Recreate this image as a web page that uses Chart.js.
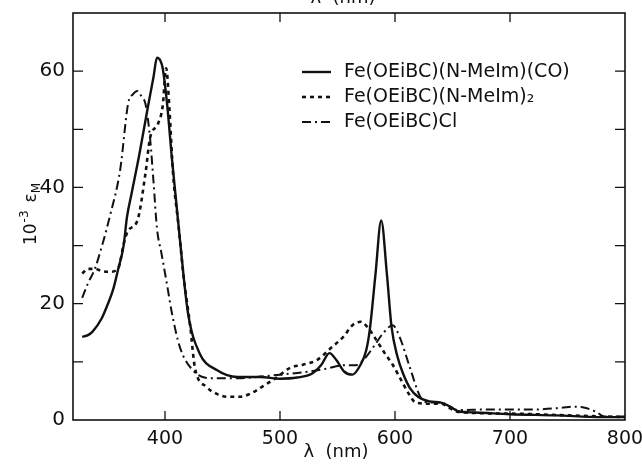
<!DOCTYPE html>
<html>
<head>
<meta charset="utf-8">
<script src="https://cdn.jsdelivr.net/npm/chart.js@4"></script>
<style>
  html, body { margin: 0; padding: 0; background: #fff; }
  canvas { display: block; }
</style>
</head>
<body>
<canvas id="chart" width="642" height="465"></canvas>
<script>
// Fe(OEiBC)(N-MeIm)(CO) - solid
var waveCO = [328, 333, 337, 345, 350, 355, 359, 364, 367, 371, 378, 385, 390, 393, 396, 398, 402, 406, 413, 420, 430, 445, 463, 483, 500, 515, 528, 536, 543, 549, 556, 563, 570, 575, 578, 583, 588, 593, 597, 602, 607, 613, 620, 630, 640, 648, 655, 670, 700, 740, 780, 800]
var epsCO = [14.3, 14.6, 15.2, 17.5, 19.8, 22.5, 25.7, 30, 35, 39, 46, 53.7, 59, 62.3, 61.8, 60.5, 54, 45, 31, 18.4, 11.5, 8.6, 7.4, 7.4, 7.1, 7.3, 8, 9.5, 11.5, 10.3, 8.3, 7.8, 9.5, 12, 15.4, 25, 34.3, 25, 16, 11, 8, 5.5, 4, 3.2, 3, 2.3, 1.5, 1.3, 1.0, 0.8, 0.5, 0.5]

// Fe(OEiBC)(N-MeIm)2 - short dashes
var waveBis = [328, 333, 339, 345, 352, 359, 365, 368, 376, 383, 387, 394, 398, 401, 404, 407, 412, 416, 422, 426, 436, 445, 454, 465, 475, 485, 497, 509, 520, 532, 545, 555, 563, 570, 576, 583, 591, 598, 605, 612, 618, 630, 640, 648, 655, 700, 750, 800]
var epsBis = [25.2, 26, 26, 25.6, 25.5, 26, 31, 32.6, 34.3, 42.4, 48.5, 51, 54, 60.5, 53, 42.4, 33, 25, 16, 9, 5.7, 4.5, 4, 4, 4.6, 5.8, 7.3, 9, 9.5, 10.3, 12.5, 14.3, 16.3, 16.9, 16, 14, 11.5, 9.5, 7, 4.5, 3, 2.8, 2.8, 2, 1.4, 1.1, 0.8, 0.5]

// Fe(OEiBC)Cl - dash-dot
var waveCl = [328, 333, 339, 346, 352, 361, 368, 372, 376, 380, 383, 387, 390, 393, 397, 402, 406, 413, 424, 439, 463, 480, 500, 520, 540, 555, 565, 572, 581, 590, 598, 604, 613, 622, 630, 640, 648, 655, 680, 720, 745, 755, 765, 775, 782, 800]
var epsCl = [21, 23.5, 26, 30.5, 35, 43, 54.5, 56, 56.6, 55.5, 54.4, 48.5, 41, 33, 28.6, 23, 18.4, 12.5, 8.6, 7.2, 7.2, 7.4, 7.8, 8.2, 8.8, 9.4, 9.4, 10.2, 12.5, 15, 16.3, 14.3, 9, 4, 3, 3, 2.2, 1.7, 1.8, 1.8, 2.1, 2.3, 2.1, 1.4, 0.6, 0.6]

var labels = ['Fe(OEiBC)(N-MeIm)(CO)', 'Fe(OEiBC)(N-MeIm)₂', 'Fe(OEiBC)Cl']
var xTicks = [400, 500, 600, 700, 800]
var yTicks = [0, 10, 20, 30, 40, 50, 60, 70]
var yLabels = [0, 20, 40, 60]

var ink = '#111'
var font = '"DejaVu Sans", sans-serif'

function pts(xs, ys) {
  return xs.map(function (x, i) { return { x: x, y: ys[i] } })
}

// frame, inward ticks, axis titles and the legend
var framePlugin = {
  id: 'frame',
  afterDraw: function (chart) {
    var c = chart.ctx, a = chart.chartArea
    var xs = chart.scales.x, ys = chart.scales.y
    c.save()
    c.strokeStyle = ink
    c.lineWidth = 1.6
    c.strokeRect(a.left, a.top, a.right - a.left, a.bottom - a.top)
    c.lineWidth = 1.3
    c.beginPath()
    xTicks.forEach(function (v) {
      var px = xs.getPixelForValue(v)
      if (px > a.right - 2) return
      c.moveTo(px, a.bottom); c.lineTo(px, a.bottom - 9)
      c.moveTo(px, a.top); c.lineTo(px, a.top + 9)
    })
    yTicks.forEach(function (v) {
      var py = ys.getPixelForValue(v)
      if (v === 0 || py < a.top + 2) return
      c.moveTo(a.left, py); c.lineTo(a.left + 10, py)
      c.moveTo(a.right, py); c.lineTo(a.right - 10, py)
    })
    c.stroke()

    c.fillStyle = ink
    // x titles (bottom, and the cut-off one of the panel above)
    c.font = '18px ' + font
    c.textAlign = 'center'
    c.textBaseline = 'middle'
    c.fillText('λ  (nm)', 336, 452)
    c.textBaseline = 'alphabetic'
    c.fillText('λ  (nm)', 343, 3)

    // y title: 10^-3 eps_M
    c.translate(36, 214)
    c.rotate(-Math.PI / 2)
    c.textAlign = 'left'
    c.textBaseline = 'alphabetic'
    var big = '17px ' + font, small = '12px ' + font
    c.font = big
    var w1 = c.measureText('10').width
    c.font = small
    var w2 = c.measureText('-3').width
    c.font = big
    var w3 = c.measureText('ε').width
    c.font = small
    var w4 = c.measureText('M').width
    var gap = 9
    var x0 = -(w1 + w2 + gap + w3 + w4) / 2
    c.font = big; c.fillText('10', x0, 0)
    c.font = small; c.fillText('-3', x0 + w1 + 1, -8)
    c.font = big; c.fillText('ε', x0 + w1 + w2 + gap, 0)
    c.font = small; c.fillText('M', x0 + w1 + w2 + gap + w3, 4)
    c.setTransform(1, 0, 0, 1, 0, 0)

    // legend
    var rowY = [72, 97, 122]
    chart.data.datasets.forEach(function (ds, i) {
      c.strokeStyle = ink
      c.lineWidth = ds.borderWidth
      c.setLineDash(ds.borderDash || [])
      c.beginPath()
      c.moveTo(302, rowY[i]); c.lineTo(331, rowY[i])
      c.stroke()
      c.setLineDash([])
      c.font = '19px ' + font
      c.textAlign = 'left'
      c.textBaseline = 'middle'
      c.fillText(ds.label, 344, rowY[i])
    })
    c.restore()
  }
}

var ctx = document.getElementById('chart')

var chart = new Chart(ctx, {
  type: 'line',
  data: {
    datasets: [{
      label: labels[0],
      data: pts(waveCO, epsCO),
      borderColor: ink,
      borderWidth: 2.4,
      borderDash: []
    }, {
      label: labels[1],
      data: pts(waveBis, epsBis),
      borderColor: ink,
      borderWidth: 2.6,
      borderDash: [4, 4]
    }, {
      label: labels[2],
      data: pts(waveCl, epsCl),
      borderColor: ink,
      borderWidth: 2,
      borderDash: [9, 4, 2, 4]
    }]
  },
  options: {
    responsive: false,
    animation: false,
    layout: { padding: { top: 13, right: 17, left: 0, bottom: 0 } },
    elements: {
      point: { radius: 0 },
      line: { cubicInterpolationMode: 'monotone', fill: false }
    },
    plugins: {
      legend: { display: false },
      tooltip: { enabled: false }
    },
    scales: {
      x: {
        type: 'linear',
        min: 320,
        max: 800,
        afterBuildTicks: function (s) { s.ticks = xTicks.map(function (v) { return { value: v } }) },
        afterFit: function (s) { s.height = 45; s.paddingLeft = 0; s.paddingRight = 0 },
        grid: { display: false },
        border: { display: false },
        ticks: {
          color: ink,
          padding: 0,
          font: { family: font, size: 19 },
          maxRotation: 0
        }
      },
      y: {
        min: 0,
        max: 70,
        afterBuildTicks: function (s) { s.ticks = yTicks.map(function (v) { return { value: v } }) },
        afterFit: function (s) { s.width = 73; s.paddingTop = 0; s.paddingBottom = 0 },
        grid: { display: false },
        border: { display: false },
        ticks: {
          color: ink,
          padding: 0,
          font: { family: font, size: 20 },
          callback: function (v) { return yLabels.indexOf(v) >= 0 ? String(v) : '' }
        }
      }
    }
  },
  plugins: [framePlugin]
});
</script>
</body>
</html>
